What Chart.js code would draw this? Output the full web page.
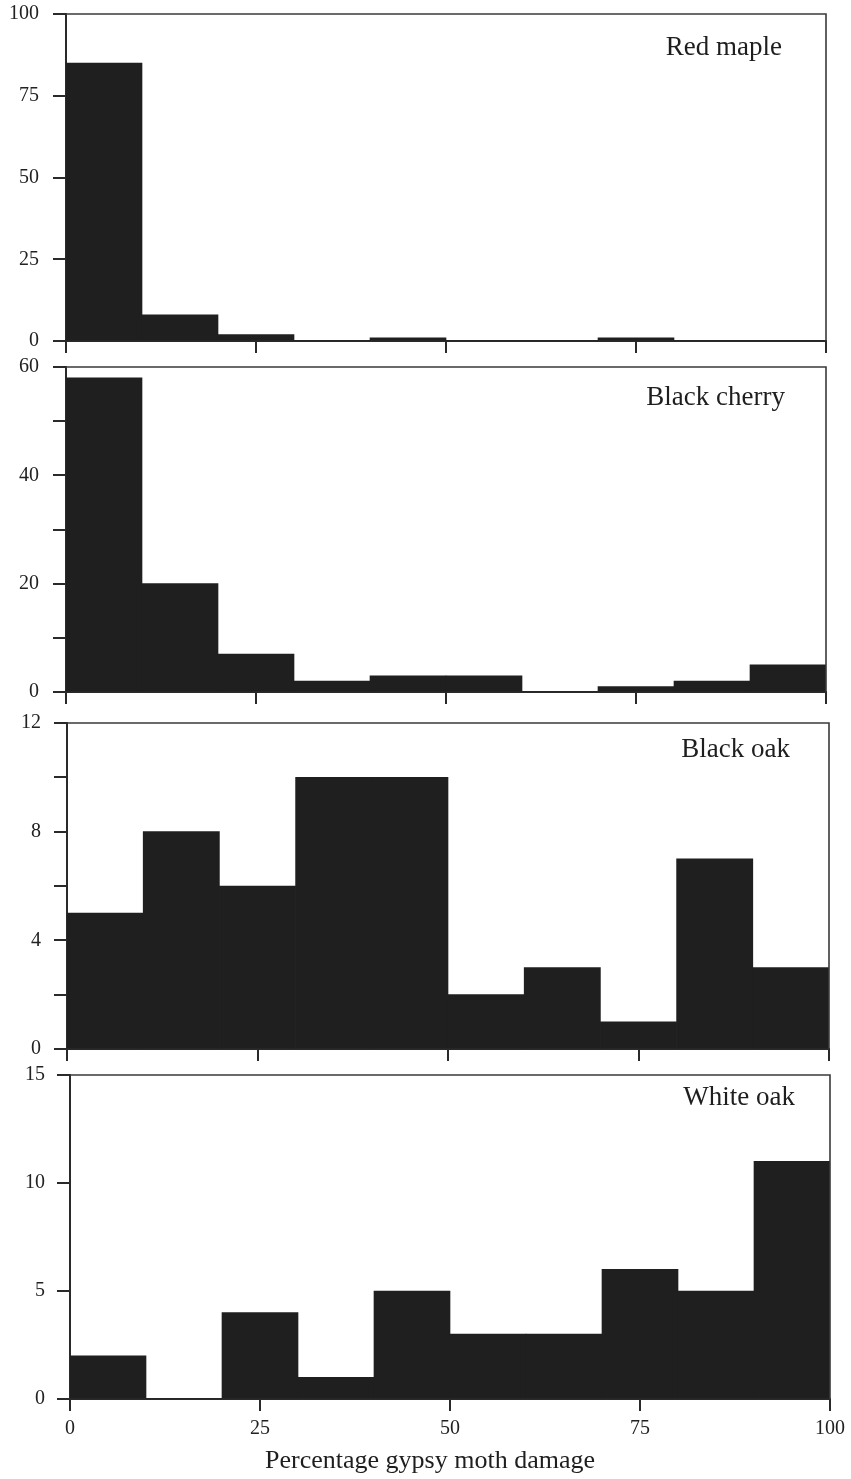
<!DOCTYPE html>
<html>
<head>
<meta charset="utf-8">
<script src="https://cdn.jsdelivr.net/npm/chart.js@4.4.1/dist/chart.umd.min.js"></script>
<style>
  body { margin: 0; background: #fff; }
  #wrap { position: relative; width: 851px; height: 1479px; }
  canvas { position: absolute; left: 0; }
</style>
</head>
<body>
<div id="wrap">
  <canvas id="c1" width="851" height="360" style="top:0px"></canvas>
  <canvas id="c2" width="851" height="360" style="top:355px"></canvas>
  <canvas id="c3" width="851" height="360" style="top:710px"></canvas>
  <canvas id="c4" width="851" height="414" style="top:1065px"></canvas>
</div>
<script>
// damage classes (%), 10-point bins
const bins = ['0-10', '10-20', '20-30', '30-40', '40-50', '50-60', '60-70', '70-80', '80-90', '90-100'];
const xTicks = [0, 25, 50, 75, 100];

// number of trees per damage class
const redMaple    = [85, 8, 2, 0, 1, 0, 0, 1, 0, 0];
const blackCherry = [58, 20, 7, 2, 3, 3, 0, 1, 2, 5];
const blackOak    = [5, 8, 6, 10, 10, 2, 3, 1, 7, 3];
const whiteOak    = [2, 0, 4, 1, 5, 3, 3, 6, 5, 11];

const xTitle = 'Percentage gypsy moth damage';

const serif = '"Liberation Serif", "Times New Roman", serif';
const ink = '#222';

// frame (top + right), species name, optional x title
const decor = {
  id: 'decor',
  afterDraw(chart, args, o) {
    const a = chart.chartArea, c = chart.ctx;
    c.save();
    c.strokeStyle = '#3a3a3a';
    c.lineWidth = 1.6;
    c.beginPath();
    c.moveTo(a.left, a.top);
    c.lineTo(a.right, a.top);
    c.lineTo(a.right, a.bottom);
    c.stroke();
    c.fillStyle = '#1e1e1e';
    c.font = '27px ' + serif;
    c.textAlign = 'right';
    c.textBaseline = 'alphabetic';
    c.fillText(o.name, a.right - o.dx, a.top + o.dy);
    if (o.title) {
      c.font = '26px ' + serif;
      c.textAlign = 'center';
      c.fillText(o.title, o.tx, o.ty);
    }
    c.restore();
  }
};

function panel(id, name, values, p) {
  new Chart(document.getElementById(id), {
    type: 'bar',
    data: {
      labels: bins,
      datasets: [{
        data: values,
        xAxisID: 'xc',
        yAxisID: 'y',
        backgroundColor: '#1f1f1f',
        borderWidth: 0,
        barPercentage: 1,
        categoryPercentage: 1
      }]
    },
    options: {
      responsive: false,
      animation: false,
      layout: { padding: { left: 0, top: p.top, right: p.right, bottom: 0 } },
      scales: {
        xc: { type: 'category', display: false, offset: true },
        x: {
          type: 'linear',
          position: 'bottom',
          min: 0,
          max: 100,
          offset: false,
          afterBuildTicks: s => { s.ticks = xTicks.map(v => ({ value: v })); },
          ticks: { display: !!p.xLabels, font: { family: serif, size: 20 }, color: ink, padding: 6, maxRotation: 0 },
          grid: { offset: false, drawOnChartArea: false, drawTicks: true, tickLength: 12, color: '#2a2a2a', lineWidth: 2 },
          border: { display: true, color: '#2a2a2a', width: 2 },
          afterFit: s => { s.height = p.xh; }
        },
        y: {
          min: 0,
          max: p.max,
          ticks: {
            stepSize: p.step,
            font: { family: serif, size: 20 },
            color: ink,
            padding: p.lp,
            callback: v => (v % p.labelStep === 0 ? v : '')
          },
          grid: { drawOnChartArea: false, drawTicks: true, tickLength: 13, color: '#2a2a2a', lineWidth: 2 },
          border: { display: true, color: '#2a2a2a', width: 2 },
          afterFit: s => { s.width = p.left; s.paddingTop = 0; s.paddingBottom = 0; }
        }
      },
      plugins: {
        legend: { display: false },
        tooltip: { enabled: false },
        decor: { name: name, dx: p.dx, dy: p.dy, title: p.title, tx: p.tx, ty: p.ty }
      }
    },
    plugins: [decor]
  });
}

panel('c1', 'Red maple', redMaple,
  { top: 14, right: 25, left: 66, xh: 19, max: 100, step: 25, labelStep: 25, dx: 44, dy: 41, lp: 14 });
panel('c2', 'Black cherry', blackCherry,
  { top: 12, right: 25, left: 66, xh: 23, max: 60, step: 10, labelStep: 20, dx: 41, dy: 38, lp: 14 });
panel('c3', 'Black oak', blackOak,
  { top: 13, right: 22, left: 67, xh: 21, max: 12, step: 2, labelStep: 4, dx: 39, dy: 34, lp: 13 });
panel('c4', 'White oak', whiteOak,
  { top: 10, right: 21, left: 70, xh: 80, max: 15, step: 5, labelStep: 5, dx: 35, dy: 30, lp: 12,
    xLabels: true, title: xTitle, tx: 430, ty: 403 });
</script>
</body>
</html>
